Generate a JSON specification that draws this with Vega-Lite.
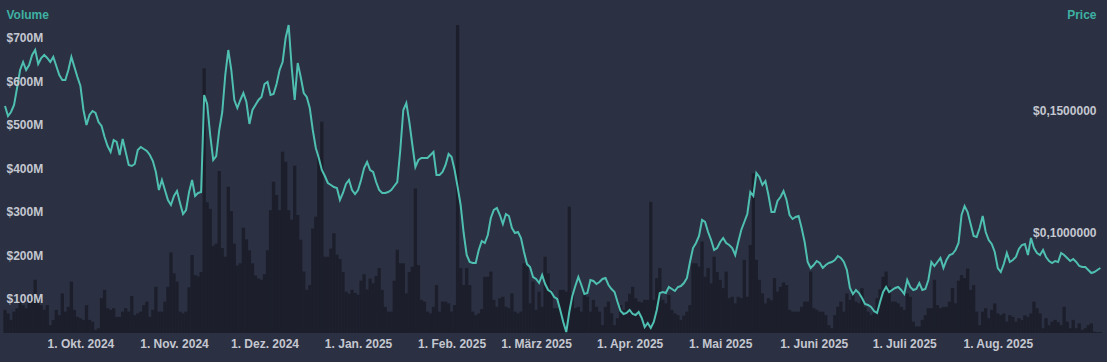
{
"$schema":"https://vega.github.io/schema/vega-lite/v6.json",
"width":1107,"height":333,
"autosize":{"type":"none"},
"padding":{"left":0,"right":0,"top":0,"bottom":29},
"background":"#2b3042",
"config":{"view":{"stroke":null},"font":"Liberation Sans"},
"data":{"values":[
{"date":"2024-09-06","volume":53,"price":0.14775},{"date":"2024-09-07","volume":45,"price":0.14367},{"date":"2024-09-08","volume":30,"price":0.14530},{"date":"2024-09-09","volume":49,"price":0.14816},{"date":"2024-09-10","volume":57,"price":0.15511},{"date":"2024-09-11","volume":72,"price":0.16247},{"date":"2024-09-12","volume":64,"price":0.16574},{"date":"2024-09-13","volume":57,"price":0.16247},{"date":"2024-09-14","volume":76,"price":0.16452},{"date":"2024-09-15","volume":80,"price":0.16860},{"date":"2024-09-16","volume":122,"price":0.17065},{"date":"2024-09-17","volume":72,"price":0.16492},{"date":"2024-09-18","volume":64,"price":0.16738},{"date":"2024-09-19","volume":53,"price":0.16860},{"date":"2024-09-20","volume":64,"price":0.16738},{"date":"2024-09-21","volume":18,"price":0.16574},{"date":"2024-09-22","volume":30,"price":0.16779},{"date":"2024-09-23","volume":53,"price":0.16411},{"date":"2024-09-24","volume":41,"price":0.16043},{"date":"2024-09-25","volume":91,"price":0.15838},{"date":"2024-09-26","volume":49,"price":0.15838},{"date":"2024-09-27","volume":60,"price":0.16247},{"date":"2024-09-28","volume":118,"price":0.16779},{"date":"2024-09-29","volume":53,"price":0.16370},{"date":"2024-09-30","volume":37,"price":0.15961},
{"date":"2024-10-01","volume":34,"price":0.15593},{"date":"2024-10-02","volume":30,"price":0.14612},{"date":"2024-10-03","volume":64,"price":0.13999},{"date":"2024-10-04","volume":30,"price":0.14407},{"date":"2024-10-05","volume":26,"price":0.14571},{"date":"2024-10-06","volume":7,"price":0.14489},{"date":"2024-10-07","volume":11,"price":0.14121},{"date":"2024-10-08","volume":80,"price":0.13958},{"date":"2024-10-09","volume":99,"price":0.13508},{"date":"2024-10-10","volume":57,"price":0.13140},{"date":"2024-10-11","volume":53,"price":0.12895},{"date":"2024-10-12","volume":57,"price":0.13385},{"date":"2024-10-13","volume":37,"price":0.13304},{"date":"2024-10-14","volume":37,"price":0.12772},{"date":"2024-10-15","volume":49,"price":0.13426},{"date":"2024-10-16","volume":57,"price":0.12895},{"date":"2024-10-17","volume":49,"price":0.12363},{"date":"2024-10-18","volume":85,"price":0.12322},{"date":"2024-10-19","volume":41,"price":0.12404},{"date":"2024-10-20","volume":45,"price":0.12977},{"date":"2024-10-21","volume":49,"price":0.13099},{"date":"2024-10-22","volume":64,"price":0.13017},{"date":"2024-10-23","volume":72,"price":0.12936},{"date":"2024-10-24","volume":37,"price":0.12772},{"date":"2024-10-25","volume":53,"price":0.12527},{"date":"2024-10-26","volume":106,"price":0.12077},{"date":"2024-10-27","volume":49,"price":0.11341},{"date":"2024-10-28","volume":49,"price":0.11750},{"date":"2024-10-29","volume":72,"price":0.11341},{"date":"2024-10-30","volume":106,"price":0.10932},{"date":"2024-10-31","volume":185,"price":0.10728},
{"date":"2024-11-01","volume":137,"price":0.11096},{"date":"2024-11-02","volume":118,"price":0.11300},{"date":"2024-11-03","volume":49,"price":0.10810},{"date":"2024-11-04","volume":45,"price":0.10360},{"date":"2024-11-05","volume":49,"price":0.10524},{"date":"2024-11-06","volume":105,"price":0.11259},{"date":"2024-11-07","volume":179,"price":0.11750},{"date":"2024-11-08","volume":133,"price":0.11096},{"date":"2024-11-09","volume":130,"price":0.11219},{"date":"2024-11-10","volume":140,"price":0.11259},{"date":"2024-11-11","volume":608,"price":0.15225},{"date":"2024-11-12","volume":300,"price":0.14857},{"date":"2024-11-13","volume":285,"price":0.13590},{"date":"2024-11-14","volume":200,"price":0.12568},{"date":"2024-11-15","volume":205,"price":0.12731},{"date":"2024-11-16","volume":372,"price":0.13794},{"date":"2024-11-17","volume":195,"price":0.14530},{"date":"2024-11-18","volume":175,"price":0.16043},{"date":"2024-11-19","volume":336,"price":0.17065},{"date":"2024-11-20","volume":280,"price":0.16247},{"date":"2024-11-21","volume":205,"price":0.15021},{"date":"2024-11-22","volume":155,"price":0.14694},{"date":"2024-11-23","volume":160,"price":0.15021},{"date":"2024-11-24","volume":242,"price":0.15307},{"date":"2024-11-25","volume":215,"price":0.14939},{"date":"2024-11-26","volume":190,"price":0.14040},{"date":"2024-11-27","volume":160,"price":0.14612},{"date":"2024-11-28","volume":132,"price":0.14816},{"date":"2024-11-29","volume":125,"price":0.15021},{"date":"2024-11-30","volume":122,"price":0.15143},
{"date":"2024-12-01","volume":135,"price":0.15675},{"date":"2024-12-02","volume":190,"price":0.15757},{"date":"2024-12-03","volume":282,"price":0.15225},{"date":"2024-12-04","volume":347,"price":0.15266},{"date":"2024-12-05","volume":317,"price":0.15675},{"date":"2024-12-06","volume":282,"price":0.16247},{"date":"2024-12-07","volume":416,"price":0.16574},{"date":"2024-12-08","volume":393,"price":0.17555},{"date":"2024-12-09","volume":282,"price":0.18087},{"date":"2024-12-10","volume":260,"price":0.16370},{"date":"2024-12-11","volume":384,"price":0.15021},{"date":"2024-12-12","volume":271,"price":0.16533},{"date":"2024-12-13","volume":214,"price":0.15961},{"date":"2024-12-14","volume":141,"price":0.15307},{"date":"2024-12-15","volume":99,"price":0.15143},{"date":"2024-12-16","volume":110,"price":0.14694},{"date":"2024-12-17","volume":240,"price":0.13794},{"date":"2024-12-18","volume":267,"price":0.13058},{"date":"2024-12-19","volume":405,"price":0.12649},{"date":"2024-12-20","volume":485,"price":0.12159},{"date":"2024-12-21","volume":175,"price":0.11914},{"date":"2024-12-22","volume":175,"price":0.11627},{"date":"2024-12-23","volume":194,"price":0.11546},{"date":"2024-12-24","volume":229,"price":0.11464},{"date":"2024-12-25","volume":180,"price":0.11423},{"date":"2024-12-26","volume":170,"price":0.10932},{"date":"2024-12-27","volume":140,"price":0.11219},{"date":"2024-12-28","volume":95,"price":0.11587},{"date":"2024-12-29","volume":90,"price":0.11750},{"date":"2024-12-30","volume":99,"price":0.11341},{"date":"2024-12-31","volume":92,"price":0.11178},
{"date":"2025-01-01","volume":88,"price":0.11341},{"date":"2025-01-02","volume":120,"price":0.11750},{"date":"2025-01-03","volume":135,"price":0.12241},{"date":"2025-01-04","volume":100,"price":0.12486},{"date":"2025-01-05","volume":125,"price":0.12159},{"date":"2025-01-06","volume":114,"price":0.12077},{"date":"2025-01-07","volume":131,"price":0.11668},{"date":"2025-01-08","volume":149,"price":0.11341},{"date":"2025-01-09","volume":99,"price":0.11219},{"date":"2025-01-10","volume":60,"price":0.11219},{"date":"2025-01-11","volume":49,"price":0.11259},{"date":"2025-01-12","volume":49,"price":0.11341},{"date":"2025-01-13","volume":120,"price":0.11505},{"date":"2025-01-14","volume":191,"price":0.11668},{"date":"2025-01-15","volume":160,"price":0.12977},{"date":"2025-01-16","volume":160,"price":0.14612},{"date":"2025-01-17","volume":91,"price":0.14898},{"date":"2025-01-18","volume":140,"price":0.14121},{"date":"2025-01-19","volume":152,"price":0.13181},{"date":"2025-01-20","volume":332,"price":0.12282},{"date":"2025-01-21","volume":156,"price":0.12568},{"date":"2025-01-22","volume":76,"price":0.12649},{"date":"2025-01-23","volume":72,"price":0.12649},{"date":"2025-01-24","volume":49,"price":0.12649},{"date":"2025-01-25","volume":45,"price":0.12772},{"date":"2025-01-26","volume":60,"price":0.12895},{"date":"2025-01-27","volume":110,"price":0.11954},{"date":"2025-01-28","volume":49,"price":0.11954},{"date":"2025-01-29","volume":72,"price":0.12077},{"date":"2025-01-30","volume":72,"price":0.12363},{"date":"2025-01-31","volume":68,"price":0.12813},
{"date":"2025-02-01","volume":49,"price":0.12690},{"date":"2025-02-02","volume":64,"price":0.12159},{"date":"2025-02-03","volume":707,"price":0.11464},{"date":"2025-02-04","volume":149,"price":0.10728},{"date":"2025-02-05","volume":110,"price":0.09583},{"date":"2025-02-06","volume":149,"price":0.08684},{"date":"2025-02-07","volume":110,"price":0.08398},{"date":"2025-02-08","volume":49,"price":0.08357},{"date":"2025-02-09","volume":41,"price":0.08357},{"date":"2025-02-10","volume":45,"price":0.08888},{"date":"2025-02-11","volume":55,"price":0.09256},{"date":"2025-02-12","volume":129,"price":0.09174},{"date":"2025-02-13","volume":129,"price":0.09502},{"date":"2025-02-14","volume":141,"price":0.10197},{"date":"2025-02-15","volume":76,"price":0.10524},{"date":"2025-02-16","volume":60,"price":0.10605},{"date":"2025-02-17","volume":80,"price":0.10319},{"date":"2025-02-18","volume":83,"price":0.09951},{"date":"2025-02-19","volume":60,"price":0.10360},{"date":"2025-02-20","volume":57,"price":0.10278},{"date":"2025-02-21","volume":91,"price":0.09788},{"date":"2025-02-22","volume":49,"price":0.09583},{"date":"2025-02-23","volume":45,"price":0.09624},{"date":"2025-02-24","volume":49,"price":0.09379},{"date":"2025-02-25","volume":160,"price":0.08806},{"date":"2025-02-26","volume":152,"price":0.08316},{"date":"2025-02-27","volume":68,"price":0.08193},{"date":"2025-02-28","volume":118,"price":0.07784},
{"date":"2025-03-01","volume":53,"price":0.07703},{"date":"2025-03-02","volume":95,"price":0.07539},{"date":"2025-03-03","volume":60,"price":0.07866},{"date":"2025-03-04","volume":175,"price":0.07498},{"date":"2025-03-05","volume":137,"price":0.07253},{"date":"2025-03-06","volume":99,"price":0.07171},{"date":"2025-03-07","volume":57,"price":0.06967},{"date":"2025-03-08","volume":57,"price":0.06885},{"date":"2025-03-09","volume":99,"price":0.06435},{"date":"2025-03-10","volume":99,"price":0.05945},{"date":"2025-03-11","volume":95,"price":0.05536},{"date":"2025-03-12","volume":290,"price":0.06354},{"date":"2025-03-13","volume":91,"price":0.07008},{"date":"2025-03-14","volume":57,"price":0.07416},{"date":"2025-03-15","volume":60,"price":0.07784},{"date":"2025-03-16","volume":49,"price":0.07457},{"date":"2025-03-17","volume":95,"price":0.07089},{"date":"2025-03-18","volume":83,"price":0.07130},{"date":"2025-03-19","volume":49,"price":0.07662},{"date":"2025-03-20","volume":76,"price":0.07621},{"date":"2025-03-21","volume":60,"price":0.07498},{"date":"2025-03-22","volume":49,"price":0.07580},{"date":"2025-03-23","volume":18,"price":0.07703},{"date":"2025-03-24","volume":60,"price":0.07744},{"date":"2025-03-25","volume":72,"price":0.07457},{"date":"2025-03-26","volume":45,"price":0.07294},{"date":"2025-03-27","volume":18,"price":0.07171},{"date":"2025-03-28","volume":34,"price":0.06762},{"date":"2025-03-29","volume":64,"price":0.06394},{"date":"2025-03-30","volume":53,"price":0.06272},{"date":"2025-03-31","volume":72,"price":0.06313},
{"date":"2025-04-01","volume":90,"price":0.06435},{"date":"2025-04-02","volume":106,"price":0.06272},{"date":"2025-04-03","volume":80,"price":0.06231},{"date":"2025-04-04","volume":72,"price":0.06354},{"date":"2025-04-05","volume":70,"price":0.06108},{"date":"2025-04-06","volume":76,"price":0.05740},{"date":"2025-04-07","volume":76,"price":0.05904},{"date":"2025-04-08","volume":301,"price":0.05699},{"date":"2025-04-09","volume":76,"price":0.05945},{"date":"2025-04-10","volume":126,"price":0.06435},{"date":"2025-04-11","volume":149,"price":0.07130},{"date":"2025-04-12","volume":76,"price":0.07171},{"date":"2025-04-13","volume":68,"price":0.07130},{"date":"2025-04-14","volume":87,"price":0.07376},{"date":"2025-04-15","volume":53,"price":0.07294},{"date":"2025-04-16","volume":45,"price":0.07212},{"date":"2025-04-17","volume":41,"price":0.07376},{"date":"2025-04-18","volume":30,"price":0.07416},{"date":"2025-04-19","volume":40,"price":0.07539},{"date":"2025-04-20","volume":49,"price":0.07744},{"date":"2025-04-21","volume":64,"price":0.08398},{"date":"2025-04-22","volume":160,"price":0.08970},{"date":"2025-04-23","volume":160,"price":0.09174},{"date":"2025-04-24","volume":152,"price":0.09461},{"date":"2025-04-25","volume":210,"price":0.10115},{"date":"2025-04-26","volume":129,"price":0.10033},{"date":"2025-04-27","volume":149,"price":0.09624},{"date":"2025-04-28","volume":114,"price":0.09297},{"date":"2025-04-29","volume":175,"price":0.08888},{"date":"2025-04-30","volume":140,"price":0.08970},
{"date":"2025-05-01","volume":122,"price":0.09215},{"date":"2025-05-02","volume":103,"price":0.09379},{"date":"2025-05-03","volume":141,"price":0.09174},{"date":"2025-05-04","volume":80,"price":0.09093},{"date":"2025-05-05","volume":83,"price":0.08970},{"date":"2025-05-06","volume":68,"price":0.08684},{"date":"2025-05-07","volume":83,"price":0.09215},{"date":"2025-05-08","volume":80,"price":0.09706},{"date":"2025-05-09","volume":168,"price":0.10033},{"date":"2025-05-10","volume":83,"price":0.10360},{"date":"2025-05-11","volume":202,"price":0.11259},{"date":"2025-05-12","volume":367,"price":0.11096},{"date":"2025-05-13","volume":168,"price":0.12036},{"date":"2025-05-14","volume":122,"price":0.11873},{"date":"2025-05-15","volume":91,"price":0.11546},{"date":"2025-05-16","volume":68,"price":0.11709},{"date":"2025-05-17","volume":80,"price":0.11137},{"date":"2025-05-18","volume":75,"price":0.10442},{"date":"2025-05-19","volume":126,"price":0.10442},{"date":"2025-05-20","volume":95,"price":0.10892},{"date":"2025-05-21","volume":106,"price":0.11055},{"date":"2025-05-22","volume":116,"price":0.11300},{"date":"2025-05-23","volume":110,"price":0.10932},{"date":"2025-05-24","volume":53,"price":0.10319},{"date":"2025-05-25","volume":49,"price":0.10156},{"date":"2025-05-26","volume":49,"price":0.10237},{"date":"2025-05-27","volume":49,"price":0.10278},{"date":"2025-05-28","volume":60,"price":0.09788},{"date":"2025-05-29","volume":72,"price":0.09215},{"date":"2025-05-30","volume":72,"price":0.08398},{"date":"2025-05-31","volume":141,"price":0.08152},
{"date":"2025-06-01","volume":57,"price":0.08275},{"date":"2025-06-02","volume":53,"price":0.08439},{"date":"2025-06-03","volume":49,"price":0.08357},{"date":"2025-06-04","volume":49,"price":0.08152},{"date":"2025-06-05","volume":41,"price":0.08275},{"date":"2025-06-06","volume":18,"price":0.08357},{"date":"2025-06-07","volume":11,"price":0.08398},{"date":"2025-06-08","volume":41,"price":0.08479},{"date":"2025-06-09","volume":60,"price":0.08643},{"date":"2025-06-10","volume":72,"price":0.08561},{"date":"2025-06-11","volume":49,"price":0.08398},{"date":"2025-06-12","volume":91,"price":0.08071},{"date":"2025-06-13","volume":76,"price":0.07335},{"date":"2025-06-14","volume":99,"price":0.07089},{"date":"2025-06-15","volume":72,"price":0.07253},{"date":"2025-06-16","volume":68,"price":0.07130},{"date":"2025-06-17","volume":103,"price":0.06926},{"date":"2025-06-18","volume":60,"price":0.06681},{"date":"2025-06-19","volume":49,"price":0.06640},{"date":"2025-06-20","volume":41,"price":0.06558},{"date":"2025-06-21","volume":45,"price":0.06394},{"date":"2025-06-22","volume":80,"price":0.06313},{"date":"2025-06-23","volume":100,"price":0.06762},{"date":"2025-06-24","volume":129,"price":0.07171},{"date":"2025-06-25","volume":141,"price":0.07376},{"date":"2025-06-26","volume":106,"price":0.07171},{"date":"2025-06-27","volume":72,"price":0.07253},{"date":"2025-06-28","volume":72,"price":0.07335},{"date":"2025-06-29","volume":68,"price":0.07376},{"date":"2025-06-30","volume":60,"price":0.07253},
{"date":"2025-07-01","volume":53,"price":0.07089},{"date":"2025-07-02","volume":91,"price":0.07662},{"date":"2025-07-03","volume":83,"price":0.07376},{"date":"2025-07-04","volume":26,"price":0.07253},{"date":"2025-07-05","volume":15,"price":0.07294},{"date":"2025-07-06","volume":15,"price":0.07539},{"date":"2025-07-07","volume":30,"price":0.07253},{"date":"2025-07-08","volume":41,"price":0.07294},{"date":"2025-07-09","volume":57,"price":0.07662},{"date":"2025-07-10","volume":57,"price":0.08398},{"date":"2025-07-11","volume":122,"price":0.08234},{"date":"2025-07-12","volume":64,"price":0.08398},{"date":"2025-07-13","volume":57,"price":0.08561},{"date":"2025-07-14","volume":60,"price":0.08152},{"date":"2025-07-15","volume":60,"price":0.08479},{"date":"2025-07-16","volume":72,"price":0.08684},{"date":"2025-07-17","volume":103,"price":0.08725},{"date":"2025-07-18","volume":68,"price":0.08888},{"date":"2025-07-19","volume":120,"price":0.09174},{"date":"2025-07-20","volume":133,"price":0.10319},{"date":"2025-07-21","volume":126,"price":0.10687},{"date":"2025-07-22","volume":148,"price":0.10442},{"date":"2025-07-23","volume":99,"price":0.09951},{"date":"2025-07-24","volume":110,"price":0.09461},{"date":"2025-07-25","volume":49,"price":0.09420},{"date":"2025-07-26","volume":18,"price":0.09788},{"date":"2025-07-27","volume":49,"price":0.10278},{"date":"2025-07-28","volume":57,"price":0.09624},{"date":"2025-07-29","volume":34,"price":0.09297},{"date":"2025-07-30","volume":53,"price":0.09134},{"date":"2025-07-31","volume":68,"price":0.08806},
{"date":"2025-08-01","volume":45,"price":0.08152},{"date":"2025-08-02","volume":41,"price":0.07989},{"date":"2025-08-03","volume":45,"price":0.08316},{"date":"2025-08-04","volume":26,"price":0.08766},{"date":"2025-08-05","volume":41,"price":0.08398},{"date":"2025-08-06","volume":37,"price":0.08479},{"date":"2025-08-07","volume":26,"price":0.08602},{"date":"2025-08-08","volume":34,"price":0.08929},{"date":"2025-08-09","volume":30,"price":0.09093},{"date":"2025-08-10","volume":41,"price":0.09134},{"date":"2025-08-11","volume":37,"price":0.08684},{"date":"2025-08-12","volume":45,"price":0.09379},{"date":"2025-08-13","volume":72,"price":0.08970},{"date":"2025-08-14","volume":57,"price":0.08766},{"date":"2025-08-15","volume":45,"price":0.08684},{"date":"2025-08-16","volume":11,"price":0.08888},{"date":"2025-08-17","volume":34,"price":0.08602},{"date":"2025-08-18","volume":18,"price":0.08439},{"date":"2025-08-19","volume":26,"price":0.08357},{"date":"2025-08-20","volume":30,"price":0.08439},{"date":"2025-08-21","volume":25,"price":0.08398},{"date":"2025-08-22","volume":18,"price":0.08766},{"date":"2025-08-23","volume":60,"price":0.08684},{"date":"2025-08-24","volume":26,"price":0.08561},{"date":"2025-08-25","volume":11,"price":0.08439},{"date":"2025-08-26","volume":30,"price":0.08520},{"date":"2025-08-27","volume":11,"price":0.08398},{"date":"2025-08-28","volume":22,"price":0.08234},{"date":"2025-08-29","volume":7,"price":0.08193},{"date":"2025-08-30","volume":11,"price":0.08193},{"date":"2025-08-31","volume":18,"price":0.08071},
{"date":"2025-09-01","volume":22,"price":0.07948},{"date":"2025-09-02","volume":3,"price":0.07989},{"date":"2025-09-03","volume":2,"price":0.08071},{"date":"2025-09-04","volume":2,"price":0.08152}
]},
"encoding":{
"x":{"field":"date","type":"temporal","scale":{"type":"utc","domain":[{"year":2024,"month":9,"date":6,"utc":true},{"year":2025,"month":9,"date":4,"hours":13,"utc":true}]},
"axis":{"title":null,"grid":false,"ticks":false,"domain":false,"zindex":1,"labelPadding":5,"labelFont":"Liberation Sans","labelFontSize":12,"labelFontWeight":"bold","labelColor":"#c4c7d0","labelFlush":false,"labelOverlap":false,
"values":[{"year":2024,"month":10,"date":1,"utc":true},{"year":2024,"month":11,"date":1,"utc":true},{"year":2024,"month":12,"date":1,"utc":true},{"year":2025,"month":1,"date":1,"utc":true},{"year":2025,"month":2,"date":1,"utc":true},{"year":2025,"month":3,"date":1,"utc":true},{"year":2025,"month":4,"date":1,"utc":true},{"year":2025,"month":5,"date":1,"utc":true},{"year":2025,"month":6,"date":1,"utc":true},{"year":2025,"month":7,"date":1,"utc":true},{"year":2025,"month":8,"date":1,"utc":true}],
"labelExpr":"utcdate(datum.value) + '. ' + ['Jan.','Feb.','März','Apr.','Mai','Juni','Juli','Aug.','Sep.','Okt.','Nov.','Dez.'][utcmonth(datum.value)] + ' ' + utcyear(datum.value)"}}
},
"layer":[
{"mark":{"type":"bar","width":3.3,"color":"#1c1f2b"},
"encoding":{"y":{"field":"volume","type":"quantitative","scale":{"domain":[0,764.6],"nice":false},
"axis":{"orient":"left","zindex":1,"values":[100,200,300,400,500,600,700],"labelExpr":"'$' + datum.value + 'M'","grid":false,"ticks":false,"domain":false,"labelAlign":"left","labelPadding":-6,"labelOffset":9.5,"labelFont":"Liberation Sans","labelFontSize":12,"labelFontWeight":"bold","labelColor":"#c4c7d0","labelFlush":false,"labelOverlap":false,
"title":"Volume","titleAngle":0,"titleX":6,"titleY":14,"titleAlign":"left","titleBaseline":"middle","titleColor":"#3eb1a3","titleFont":"Liberation Sans","titleFontSize":12,"titleFontWeight":"bold"}}}},
{"mark":{"type":"line","color":"#4fbfb2","strokeWidth":2},
"encoding":{"y":{"field":"price","type":"quantitative","scale":{"domain":[0.05495,0.19109],"nice":false,"zero":false},
"axis":{"orient":"right","zindex":1,"values":[0.1,0.15],"labelExpr":"'$' + replace(format(datum.value, '.7f'), '.', ',')","grid":false,"ticks":false,"domain":false,"labelAlign":"right","labelPadding":-11,"labelOffset":9.5,"labelFont":"Liberation Sans","labelFontSize":12,"labelFontWeight":"bold","labelColor":"#c4c7d0","labelFlush":false,"labelOverlap":false,
"title":"Price","titleAngle":0,"titleX":-11,"titleY":14,"titleAlign":"right","titleBaseline":"middle","titleColor":"#3eb1a3","titleFont":"Liberation Sans","titleFontSize":12,"titleFontWeight":"bold"}}}}
],
"resolve":{"scale":{"y":"independent"}}
}
